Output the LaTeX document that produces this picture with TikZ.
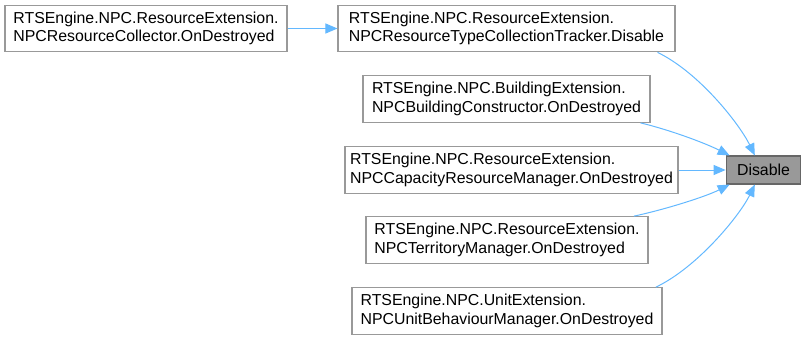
\documentclass[tikz,border=0pt]{standalone}
\usepackage{fontspec}
\setmainfont{Liberation Sans}
\usepackage{tikz}
\usetikzlibrary{arrows.meta}
\definecolor{edgeblue}{HTML}{63B8FF}
\definecolor{boxgray}{HTML}{999999}
\definecolor{markgray}{HTML}{666666}
\tikzstyle{caller} = [edgeblue,line width=0.75pt,-{Triangle[length=9pt,width=7.5pt]}]

\begin{document}
\begin{tikzpicture}[x=0.75pt,y=-0.75pt,font=\fontsize{11.9pt}{13.8pt}\selectfont]
    \tikzstyle{func}=[draw=boxgray,fill=white,thick,align=left,inner sep=0pt,minimum height=35pt]
    \tikzstyle{target}=[func,draw=markgray,fill=boxgray,minimum height=21pt]
    \useasboundingbox (0,0) rectangle (807,340);

    % Draw the function being called
    \node[target,minimum width=56pt] (D) at (763.5,170) {Disable};

    % Draw the direct callers
    \foreach \name / \x / \y / \w / \txt in {
        1/506.5/28.5/337/{RTSEngine.NPC.ResourceExtension.\\NPCResourceTypeCollectionTracker.Disable},
        2/506.5/99/287/{RTSEngine.NPC.BuildingExtension.\\NPCBuildingConstructor.OnDestroyed},
        3/511.5/170/333/{RTSEngine.NPC.ResourceExtension.\\NPCCapacityResourceManager.OnDestroyed},
        4/507/240/282/{RTSEngine.NPC.ResourceExtension.\\NPCTerritoryManager.OnDestroyed},
        5/507/311/310/{RTSEngine.NPC.UnitExtension.\\NPCUnitBehaviourManager.OnDestroyed}}
        \node[func,minimum width=\w*0.75pt] (C-\name) at (\x,\y) {\txt};

    % Draw the caller of the tracker
    \node[func,minimum width=211.5pt] (R-1) at (146,28.5)
        {RTSEngine.NPC.ResourceExtension.\\NPCResourceCollector.OnDestroyed};

    % Connect everything
    \draw[caller] (R-1.east) -- (C-1.west);
    \draw[caller] ([xshift=-13.5pt]C-1.south east) .. controls (700,73) and (740,125) .. ([xshift=-6.5pt]D.north);
    \draw[caller] ([xshift=-7.5pt]C-2.south east) .. controls (670,130) and (705,143) .. ([xshift=3pt]D.north west);
    \draw[caller] (C-3.east) -- (D.west);
    \draw[caller] ([xshift=-11pt]C-4.north east) .. controls (663,210) and (705,197) .. ([xshift=3pt]D.south west);
    \draw[caller] ([xshift=-5pt]C-5.north east) .. controls (698,267) and (740,215) .. ([xshift=-6.5pt]D.south);
\end{tikzpicture}
\end{document}
